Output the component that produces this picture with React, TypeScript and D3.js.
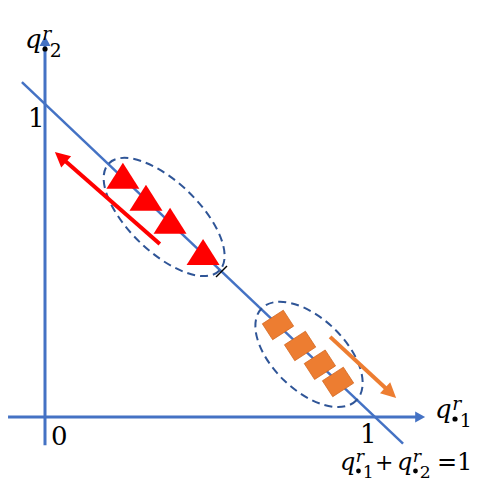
import React from "react";
import * as d3 from "d3";

const width = 500;
const height = 500;

// q1 values of the markers (q2 = 1 - q1, they sit on the line)
const redQ1 = [0.236, 0.306, 0.379, 0.479];
const orangeQ1 = [0.706, 0.773, 0.833, 0.888];
// centres of the dashed ellipses
const groupQ1 = [0.361, 0.8];
// extent of the q1+q2=1 line
const lineQ1 = [-0.07, 1.085];
// movement arrows [from, to] as [q1, q2]
const redArrow = [[0.348, 0.553], [0.03, 0.847]];
const orangeArrow = [[0.864, 0.256], [1.064, 0.061]];
// axis extents
const xAxisRange = [-0.112, 1.152];
const yAxisRange = [-0.09, 1.217];

const x = d3.scaleLinear().domain([0, 1]).range([45, 375]);
const y = d3.scaleLinear().domain([0, 1]).range([417, 104]);

const blue = "#4472C4";
const dark = "#2F5597";
const red = "#FF0000";
const orange = "#ED7D31";
const serif = "'DejaVu Serif', serif";

function head(x1, y1, x2, y2, len, w) {
  const a = Math.atan2(y2 - y1, x2 - x1);
  const bx = x2 - len * Math.cos(a);
  const by = y2 - len * Math.sin(a);
  const px = (w / 2) * Math.sin(a);
  const py = (w / 2) * Math.cos(a);
  return `${x2},${y2} ${bx + px},${by - py} ${bx - px},${by + py}`;
}

function Arrow({ pts, color, sw, len, w }) {
  const [x1, y1] = [x(pts[0][0]), y(pts[0][1])];
  const [x2, y2] = [x(pts[1][0]), y(pts[1][1])];
  const a = Math.atan2(y2 - y1, x2 - x1);
  return (
    <g>
      <line x1={x1} y1={y1} x2={x2 - (len - 2) * Math.cos(a)} y2={y2 - (len - 2) * Math.sin(a)} stroke={color} strokeWidth={sw} />
      <polygon points={head(x1, y1, x2, y2, len, w)} fill={color} />
    </g>
  );
}

function QVar({ left, base, sub, fs }) {
  return (
    <g fontFamily={serif} fill="#000">
      <text x={left} y={base} fontSize={fs} fontStyle="italic">q</text>
      <text x={left + fs * 0.66} y={base - fs * 0.32} fontSize={fs * 0.72} fontStyle="italic">r</text>
      <circle cx={left + fs * 0.77} cy={base + 1} r={fs * 0.1} />
      <text x={left + fs * 0.95} y={base + fs * 0.35} fontSize={fs * 0.72}>{sub}</text>
    </g>
  );
}

export default function App() {
  const lineGen = d3.line().x((d) => x(d)).y((d) => y(1 - d));
  return (
    <svg width={width} height={height} style={{ position: "absolute", left: 0, top: 0 }}>
      <rect width={width} height={height} fill="#fff" />
      {/* axes */}
      <line x1={x(xAxisRange[0])} y1={y(0)} x2={x(xAxisRange[1]) - 6} y2={y(0)} stroke={blue} strokeWidth={3} />
      <polygon points={head(x(0), y(0), x(xAxisRange[1]), y(0), 10, 11)} fill={blue} />
      <line x1={x(0)} y1={y(yAxisRange[0])} x2={x(0)} y2={y(yAxisRange[1]) + 6} stroke={blue} strokeWidth={3} />
      <polygon points={head(x(0), y(0), x(0), y(yAxisRange[1]), 10, 11)} fill={blue} />
      {/* q1 + q2 = 1 */}
      <path d={lineGen(lineQ1)} stroke={blue} strokeWidth={2.5} fill="none" />
      {/* dashed groups */}
      <ellipse cx={x(groupQ1[0])} cy={y(1 - groupQ1[0])} rx={77} ry={35}
        transform={`rotate(44 ${x(groupQ1[0])} ${y(1 - groupQ1[0])})`}
        fill="none" stroke={dark} strokeWidth={2} strokeDasharray="8 5" />
      <ellipse cx={x(groupQ1[1])} cy={y(1 - groupQ1[1])} rx={66} ry={36}
        transform={`rotate(44 ${x(groupQ1[1])} ${y(1 - groupQ1[1])})`}
        fill="none" stroke={dark} strokeWidth={2} strokeDasharray="8 5" />
      {/* tick mark on the line */}
      <line x1={216} y1={277} x2={227} y2={266} stroke="#000" strokeWidth={1.5} />
      {/* red triangles */}
      {redQ1.map((d, i) => {
        const cx = x(d), cy = y(1 - d);
        return <polygon key={i} points={`${cx},${cy - 15} ${cx + 16.5},${cy + 11} ${cx - 16.5},${cy + 11}`} fill={red} />;
      })}
      {/* orange squares */}
      {orangeQ1.map((d, i) => {
        const cx = x(d), cy = y(1 - d);
        return (
          <rect key={i} x={cx - 12.5} y={cy - 9.5} width={25} height={19} fill={orange} stroke="#D0651E" strokeWidth={0.7}
            transform={`rotate(-33 ${cx} ${cy})`} />
        );
      })}
      <Arrow pts={redArrow} color={red} sw={4} len={15} w={15} />
      <Arrow pts={orangeArrow} color={orange} sw={4} len={15} w={15} />
      {/* labels */}
      <g fontFamily={serif} fontSize={26} fill="#000">
        <text x={28} y={127}>1</text>
        <text x={51} y={445}>0</text>
        <text x={360} y={443}>1</text>
      </g>
      <QVar left={25} base={48} sub="2" fs={26} />
      <QVar left={435} base={418} sub="1" fs={26} />
      <QVar left={340} base={470} sub="1" fs={24} />
      <text x={375} y={470} fontFamily={serif} fontSize={22}>+</text>
      <QVar left={397} base={470} sub="2" fs={24} />
      <text x={437} y={470} fontFamily={serif} fontSize={24}>=1</text>
    </svg>
  );
}
